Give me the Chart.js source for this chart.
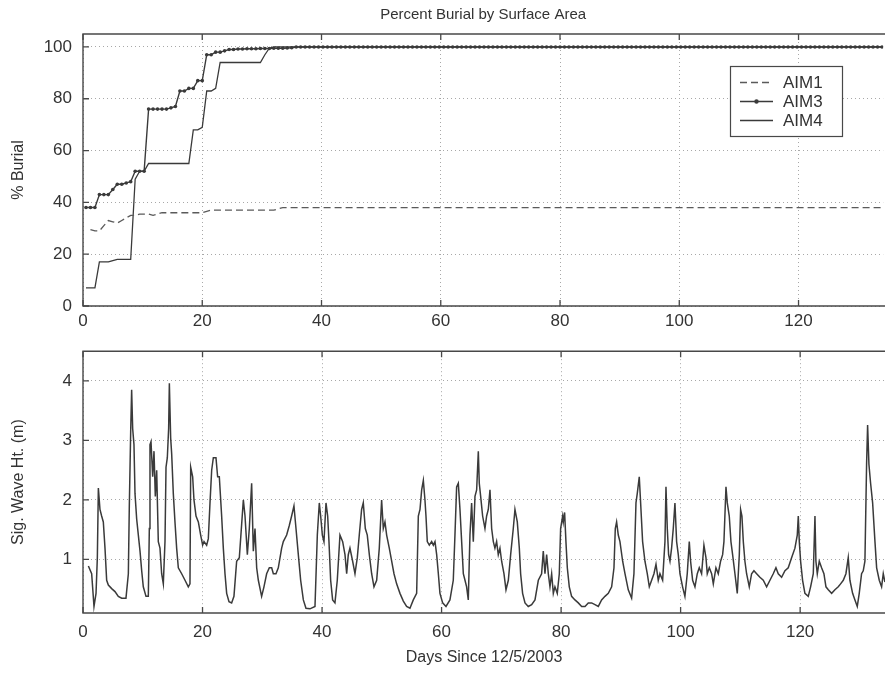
<!DOCTYPE html>
<html><head><meta charset="utf-8">
<script src="https://cdn.jsdelivr.net/npm/chart.js@4/dist/chart.umd.min.js"></script>
<style>
html,body{margin:0;padding:0;background:#fff;}
#wrap{position:relative;width:885px;height:674px;overflow:hidden;background:#fff;}
#c1{position:absolute;left:0;top:0;}
#c2{position:absolute;left:0;top:330px;}
</style></head><body>
<div id="wrap"><canvas id="c1" width="885" height="330"></canvas><canvas id="c2" width="885" height="344"></canvas></div>
<script>
// ---------- DATA ----------
const chartTitle = 'Percent Burial by Surface Area';
const xAxisTitle = 'Days Since 12/5/2003';
const burialAxisTitle = '% Burial';
const waveAxisTitle = 'Sig. Wave Ht. (m)';
const seriesNames = ['AIM1', 'AIM3', 'AIM4'];
const dayTicks = [0, 20, 40, 60, 80, 100, 120];
const burialTicks = [0, 20, 40, 60, 80, 100];
const waveTicks = [1, 2, 3, 4];

const burialDays = [
0.5,1.25,2,2.75,3.5,4.25,5,5.75,6.5,7.25,
8,8.75,9.5,10.25,11,11.75,12.5,13.25,14,14.75,
15.5,16.25,17,17.75,18.5,19.25,20,20.75,21.5,22.25,
23,23.75,24.5,25.25,26,26.75,27.5,28.25,29,29.75,
30.5,31.25,32,32.75,33.5,34.25,35,35.75,36.5,37.25,
38,38.75,39.5,40.25,41,41.75,42.5,43.25,44,44.75,
45.5,46.25,47,47.75,48.5,49.25,50,50.75,51.5,52.25,
53,53.75,54.5,55.25,56,56.75,57.5,58.25,59,59.75,
60.5,61.25,62,62.75,63.5,64.25,65,65.75,66.5,67.25,
68,68.75,69.5,70.25,71,71.75,72.5,73.25,74,74.75,
75.5,76.25,77,77.75,78.5,79.25,80,80.75,81.5,82.25,
83,83.75,84.5,85.25,86,86.75,87.5,88.25,89,89.75,
90.5,91.25,92,92.75,93.5,94.25,95,95.75,96.5,97.25,
98,98.75,99.5,100.25,101,101.75,102.5,103.25,104,104.75,
105.5,106.25,107,107.75,108.5,109.25,110,110.75,111.5,112.25,
113,113.75,114.5,115.25,116,116.75,117.5,118.25,119,119.75,
120.5,121.25,122,122.75,123.5,124.25,125,125.75,126.5,127.25,
128,128.75,129.5,130.25,131,131.75,132.5,133.25,134];

const aim1 = [
null,29.5,29,29,31,33,32.5,32,33,34,
35,35,35.5,35.5,35.5,35,35.5,36,36,36,
36,36,36,36,36,36,36,36.5,37,37,
37,37,37,37,37,37,37,37,37,37,
37,37,37,37.5,38,38,38,38,38,38,
38,38,38,38,38,38,38,38,38,38,
38,38,38,38,38,38,38,38,38,38,
38,38,38,38,38,38,38,38,38,38,
38,38,38,38,38,38,38,38,38,38,
38,38,38,38,38,38,38,38,38,38,
38,38,38,38,38,38,38,38,38,38,
38,38,38,38,38,38,38,38,38,38,
38,38,38,38,38,38,38,38,38,38,
38,38,38,38,38,38,38,38,38,38,
38,38,38,38,38,38,38,38,38,38,
38,38,38,38,38,38,38,38,38,38,
38,38,38,38,38,38,38,38,38,38,
38,38,38,38,38,38,38,38,38];

const aim3 = [
38,38,38,43,43,43,45,47,47,47.5,
48,52,52,52,76,76,76,76,76,76.5,
77,83,83,84,84,87,87,97,97,98,
98,98.5,99,99,99.2,99.2,99.3,99.3,99.3,99.4,
99.4,99.4,99.5,99.5,99.5,99.6,99.7,100,100,100,
100,100,100,100,100,100,100,100,100,100,
100,100,100,100,100,100,100,100,100,100,
100,100,100,100,100,100,100,100,100,100,
100,100,100,100,100,100,100,100,100,100,
100,100,100,100,100,100,100,100,100,100,
100,100,100,100,100,100,100,100,100,100,
100,100,100,100,100,100,100,100,100,100,
100,100,100,100,100,100,100,100,100,100,
100,100,100,100,100,100,100,100,100,100,
100,100,100,100,100,100,100,100,100,100,
100,100,100,100,100,100,100,100,100,100,
100,100,100,100,100,100,100,100,100,100,
100,100,100,100,100,100,100,100,100];

const aim4 = [
7,7,7,17,17,17,17.5,18,18,18,
18,49,52,52,55,55,55,55,55,55,
55,55,55,55,68,68,69,83,83,84,
94,94,94,94,94,94,94,94,94,94,
97,99.5,100,100,100,100,100,100,100,100,
100,100,100,100,100,100,100,100,100,100,
100,100,100,100,100,100,100,100,100,100,
100,100,100,100,100,100,100,100,100,100,
100,100,100,100,100,100,100,100,100,100,
100,100,100,100,100,100,100,100,100,100,
100,100,100,100,100,100,100,100,100,100,
100,100,100,100,100,100,100,100,100,100,
100,100,100,100,100,100,100,100,100,100,
100,100,100,100,100,100,100,100,100,100,
100,100,100,100,100,100,100,100,100,100,
100,100,100,100,100,100,100,100,100,100,
100,100,100,100,100,100,100,100,100,100,
100,100,100,100,100,100,100,100,100];

const waveDays = [
0.9,1.45,1.84,2.18,2.40,2.57,2.84,3.12,3.40,3.68,3.96,4.24,4.80,5.35,5.91,6.47,7.19,7.59,7.75,7.98,
8.14,8.31,8.53,8.70,8.98,9.26,9.54,9.82,10.09,10.54,10.93,11.10,11.21,11.38,11.66,11.88,12.10,12.33,12.60,12.88,
13.16,13.44,13.72,13.89,14.11,14.33,14.45,14.67,14.84,15.11,15.39,15.67,15.95,16.51,17.07,17.62,17.90,18.02,18.35,18.57,
18.91,19.30,19.69,20.02,20.25,20.69,20.97,21.25,21.53,21.81,22.25,22.53,22.81,23.20,23.48,23.76,24.04,24.43,24.87,25.26,
25.71,26.16,26.83,27.11,27.50,27.83,28.22,28.50,28.78,29.06,29.34,29.89,30.28,30.73,31.18,31.57,31.85,32.29,32.68,33.24,
33.52,34.08,34.52,34.91,35.30,35.64,36.03,36.42,36.87,37.31,37.98,38.82,39.21,39.54,39.77,40.05,40.32,40.66,40.94,41.16,
41.44,41.77,42.16,42.55,43.00,43.45,43.84,44.12,44.39,44.67,45.12,45.51,45.90,46.23,46.62,46.90,47.24,47.57,47.91,48.30,
48.69,49.14,49.58,49.97,50.25,50.53,50.81,51.25,51.65,52.04,52.48,53.04,53.60,54.15,54.71,55.27,55.83,56.11,56.39,56.67,
56.95,57.22,57.39,57.61,57.95,58.34,58.62,58.90,59.18,59.46,59.73,60.18,60.74,61.40,61.96,62.24,62.52,62.80,63.08,63.36,
63.64,63.92,64.19,64.47,64.75,65.03,65.31,65.59,65.87,66.15,66.31,66.54,66.87,67.26,67.54,67.82,68.10,68.38,68.66,68.93,
69.21,69.49,69.77,70.05,70.44,70.78,71.17,71.56,72.00,72.28,72.67,73.01,73.23,73.56,73.96,74.51,75.07,75.63,76.19,76.74,
77.02,77.30,77.58,77.86,78.14,78.42,78.70,78.97,79.36,79.70,79.92,80.26,80.37,80.59,80.81,81.04,81.37,81.76,82.32,82.88,
83.44,84.00,84.55,85.11,85.67,86.23,86.78,87.34,87.90,88.46,88.85,89.07,89.29,89.57,89.85,90.30,90.69,91.24,91.80,92.19,
92.53,92.75,93.08,93.31,93.64,94.03,94.42,94.76,95.15,95.54,95.88,96.26,96.54,96.99,97.38,97.55,97.77,97.99,98.22,98.49,
98.77,99.05,99.33,99.61,99.89,100.33,100.72,101.11,101.45,101.67,102.01,102.40,102.79,103.12,103.51,103.90,104.24,104.46,104.80,105.19,
105.47,105.91,106.30,106.69,107.03,107.25,107.59,107.81,108.14,108.42,108.70,109.09,109.48,109.82,110.04,110.26,110.49,110.76,111.04,111.49,
111.88,112.27,112.72,113.27,113.83,114.39,114.95,115.50,115.95,116.34,116.90,117.46,118.01,118.57,119.13,119.52,119.69,119.86,120.08,120.41,
120.80,121.36,121.75,122.20,122.48,122.64,122.87,123.20,123.59,123.98,124.32,124.71,125.27,125.82,126.38,126.77,127.22,127.66,128.05,128.33,
128.78,129.17,129.56,129.89,130.28,130.56,130.84,131.12,131.29,131.51,131.79,132.13,132.52,132.80,133.24,133.63,133.91,134.19];

const waveHeights = [
0.89,0.76,0.21,0.43,1.03,2.20,1.84,1.73,1.63,1.19,0.65,0.57,0.51,0.46,0.38,0.35,0.35,0.76,1.90,3.15,
3.85,3.20,2.93,2.11,1.68,1.41,1.14,0.81,0.54,0.38,0.38,1.52,2.93,2.98,2.39,2.82,2.06,2.50,1.30,1.19,
0.76,0.59,1.30,2.55,2.71,3.20,3.96,3.04,2.77,2.11,1.63,1.19,0.86,0.76,0.65,0.54,0.59,2.55,2.39,2.00,
1.73,1.63,1.41,1.24,1.30,1.24,1.35,1.95,2.50,2.71,2.71,2.39,2.39,1.73,1.19,0.76,0.43,0.29,0.27,0.38,
0.97,1.03,2.00,1.73,1.08,1.52,2.28,1.14,1.52,0.86,0.65,0.38,0.54,0.76,0.86,0.86,0.76,0.76,0.86,1.19,
1.30,1.41,1.57,1.73,1.90,1.52,1.08,0.65,0.32,0.18,0.17,0.21,1.41,1.95,1.73,1.41,1.30,1.95,1.73,1.30,
0.65,0.32,0.27,0.65,1.41,1.30,1.08,0.76,1.08,1.19,0.97,0.76,1.03,1.41,1.84,1.95,1.52,1.41,1.08,0.76,
0.54,0.65,1.19,2.00,1.52,1.63,1.41,1.19,0.97,0.76,0.59,0.43,0.30,0.21,0.18,0.32,0.43,1.73,1.84,2.17,
2.33,2.00,1.73,1.30,1.24,1.30,1.24,1.30,1.08,0.76,0.43,0.27,0.21,0.32,0.65,1.41,2.22,2.28,1.84,1.30,
0.76,0.65,0.54,0.32,1.41,1.95,1.30,2.06,2.17,2.82,2.28,2.06,1.73,1.52,1.73,1.84,2.17,1.52,1.30,1.19,
1.30,1.08,1.19,0.97,0.76,0.49,0.65,1.08,1.52,1.84,1.63,1.19,0.76,0.43,0.27,0.21,0.24,0.32,0.65,0.76,
1.14,0.76,1.08,0.76,0.54,0.76,0.43,0.54,0.43,0.76,1.52,1.73,1.63,1.79,1.30,0.86,0.54,0.38,0.32,0.27,
0.21,0.21,0.27,0.27,0.24,0.21,0.32,0.38,0.43,0.54,0.86,1.52,1.63,1.41,1.30,0.97,0.76,0.49,0.35,0.76,
1.95,2.11,2.39,1.95,1.30,0.97,0.76,0.54,0.65,0.76,0.92,0.65,0.76,0.65,1.30,2.22,1.52,1.08,0.97,1.19,
1.52,1.95,1.30,1.08,0.76,0.54,0.38,0.76,1.30,0.97,0.65,0.54,0.76,0.86,0.76,1.24,1.03,0.76,0.86,0.76,
0.59,0.86,0.76,0.97,1.08,1.30,2.22,1.95,1.73,1.30,1.08,0.76,0.43,1.08,1.84,1.73,1.30,0.97,0.76,0.54,
0.76,0.81,0.76,0.70,0.65,0.54,0.65,0.76,0.86,0.76,0.70,0.81,0.86,1.03,1.19,1.41,1.73,1.30,0.97,0.65,
0.43,0.38,0.54,0.76,1.73,0.97,0.76,0.97,0.86,0.76,0.54,0.49,0.43,0.49,0.54,0.59,0.65,0.76,1.03,0.65,
0.43,0.32,0.21,0.43,0.76,0.81,0.97,2.60,3.26,2.60,2.28,1.95,1.30,0.86,0.65,0.54,0.76,0.62];

// ---------- STYLE ----------
const FONT_FAMILY = '"Liberation Sans", Arial, Helvetica, sans-serif';
const TEXT_COLOR = '#333';
const GRID_COLOR = '#a8a8a8';
const FRAME_COLOR = '#484848';
const LINE_COLOR = '#3a3a3a';
const tickFont = {family: FONT_FAMILY, size: 17};
const X_MAX = 134.2;

const pts = (xs, ys) => xs.map((x, i) => ({x, y: ys[i]}));

const framePlugin = {
  id: 'frame',
  afterDatasetsDraw(chart) {
    const {ctx, chartArea: a, scales: {x, y}} = chart;
    ctx.save();
    ctx.strokeStyle = FRAME_COLOR;
    ctx.lineWidth = 1.4;
    ctx.beginPath();
    ctx.moveTo(a.right + 10, a.top); ctx.lineTo(a.left, a.top);
    ctx.lineTo(a.left, a.bottom); ctx.lineTo(a.right + 10, a.bottom);
    ctx.stroke();
    ctx.lineWidth = 1.3;
    ctx.beginPath();
    x.ticks.forEach(t => {
      const px = x.getPixelForValue(t.value);
      ctx.moveTo(px, a.bottom); ctx.lineTo(px, a.bottom - 6);
      ctx.moveTo(px, a.top); ctx.lineTo(px, a.top + 6);
    });
    y.ticks.forEach(t => {
      const py = y.getPixelForValue(t.value);
      ctx.moveTo(a.left, py); ctx.lineTo(a.left + 6, py);
    });
    ctx.stroke();
    ctx.restore();
  }
};

const legendPlugin = {
  id: 'boxLegend',
  afterDraw(chart) {
    const ctx = chart.ctx;
    const bx = 730.5, by = 66.5, bw = 112, bh = 70;
    const rows = [82.5, 101.5, 120.5];
    ctx.save();
    ctx.fillStyle = '#fff';
    ctx.fillRect(bx, by, bw, bh);
    ctx.strokeStyle = FRAME_COLOR; ctx.lineWidth = 1.2;
    ctx.strokeRect(bx, by, bw, bh);
    chart.data.datasets.forEach((ds, i) => {
      const yy = rows[i];
      ctx.strokeStyle = ds.borderColor; ctx.lineWidth = ds.borderWidth;
      ctx.setLineDash(ds.borderDash || []);
      ctx.beginPath(); ctx.moveTo(740, yy); ctx.lineTo(773, yy); ctx.stroke();
      ctx.setLineDash([]);
      if (ds.pointRadius > 0) {
        ctx.fillStyle = ds.pointBackgroundColor;
        ctx.beginPath(); ctx.arc(756.5, yy, ds.pointRadius + 0.4, 0, Math.PI * 2); ctx.fill();
      }
      ctx.fillStyle = TEXT_COLOR;
      ctx.font = '17px ' + FONT_FAMILY;
      ctx.textBaseline = 'middle'; ctx.textAlign = 'left';
      ctx.fillText(ds.label, 783, yy + 1);
    });
    ctx.restore();
  }
};

function xScale(height, pad) {
  return {
    type: 'linear', min: 0, max: X_MAX, position: 'bottom',
    grid: {color: GRID_COLOR, lineWidth: 1, drawTicks: false},
    border: {display: false, dash: [1, 3]},
    ticks: {font: tickFont, color: TEXT_COLOR, padding: pad, autoSkip: false, maxRotation: 0},
    afterBuildTicks: s => { s.ticks = dayTicks.map(v => ({value: v})); },
    afterFit: s => { s.height = height; }
  };
}
function yScale(min, max, tickVals, titleText) {
  return {
    type: 'linear', min, max,
    grid: {color: GRID_COLOR, lineWidth: 1, drawTicks: false},
    border: {display: false, dash: [1, 3]},
    ticks: {font: tickFont, color: TEXT_COLOR, padding: 11, autoSkip: false},
    afterBuildTicks: s => { s.ticks = tickVals.map(v => ({value: v})); },
    title: {display: true, text: titleText, font: {family: FONT_FAMILY, size: 16}, color: TEXT_COLOR, padding: {top: 9, bottom: 0}},
    afterFit: s => { s.width = 83; }
  };
}

// ---------- TOP CHART ----------
new Chart(document.getElementById('c1'), {
  type: 'line',
  data: {
    datasets: [
      {label: seriesNames[0], data: pts(burialDays, aim1), borderColor: '#5a5a5a', borderWidth: 1.3,
       borderDash: [7, 4], pointRadius: 0, spanGaps: false},
      {label: seriesNames[1], data: pts(burialDays, aim3), borderColor: LINE_COLOR, borderWidth: 1.4,
       pointRadius: 1.8, pointBackgroundColor: LINE_COLOR, pointBorderWidth: 0, pointHoverRadius: 0},
      {label: seriesNames[2], data: pts(burialDays, aim4), borderColor: LINE_COLOR, borderWidth: 1.3, pointRadius: 0}
    ]
  },
  options: {
    responsive: false, animation: false, devicePixelRatio: 1,
    layout: {padding: 0},
    elements: {line: {tension: 0}},
    plugins: {
      legend: {display: false}, tooltip: {enabled: false},
      title: {display: true, fullSize: false, text: chartTitle, color: TEXT_COLOR,
              font: {family: FONT_FAMILY, size: 15, weight: 'normal'}, padding: {top: 6, bottom: 10}}
    },
    scales: {x: xScale(24, 5), y: yScale(0, 105, burialTicks, burialAxisTitle)}
  },
  plugins: [framePlugin, legendPlugin]
});

// ---------- BOTTOM CHART ----------
new Chart(document.getElementById('c2'), {
  type: 'line',
  data: {
    datasets: [
      {label: 'Hs', data: pts(waveDays, waveHeights), borderColor: LINE_COLOR, borderWidth: 1.5, pointRadius: 0}
    ]
  },
  options: {
    responsive: false, animation: false, devicePixelRatio: 1,
    layout: {padding: {top: 14, left: 0, right: 0, bottom: 0}},
    elements: {line: {tension: 0}},
    plugins: {legend: {display: false}, tooltip: {enabled: false}},
    scales: {
      x: Object.assign(xScale(61, 9), {
        title: {display: true, text: xAxisTitle, color: TEXT_COLOR,
                font: {family: FONT_FAMILY, size: 16}, padding: {top: 0, bottom: 7}}
      }),
      y: yScale(0.1, 4.5, waveTicks, waveAxisTitle)
    }
  },
  plugins: [framePlugin]
});
</script>
</body></html>
